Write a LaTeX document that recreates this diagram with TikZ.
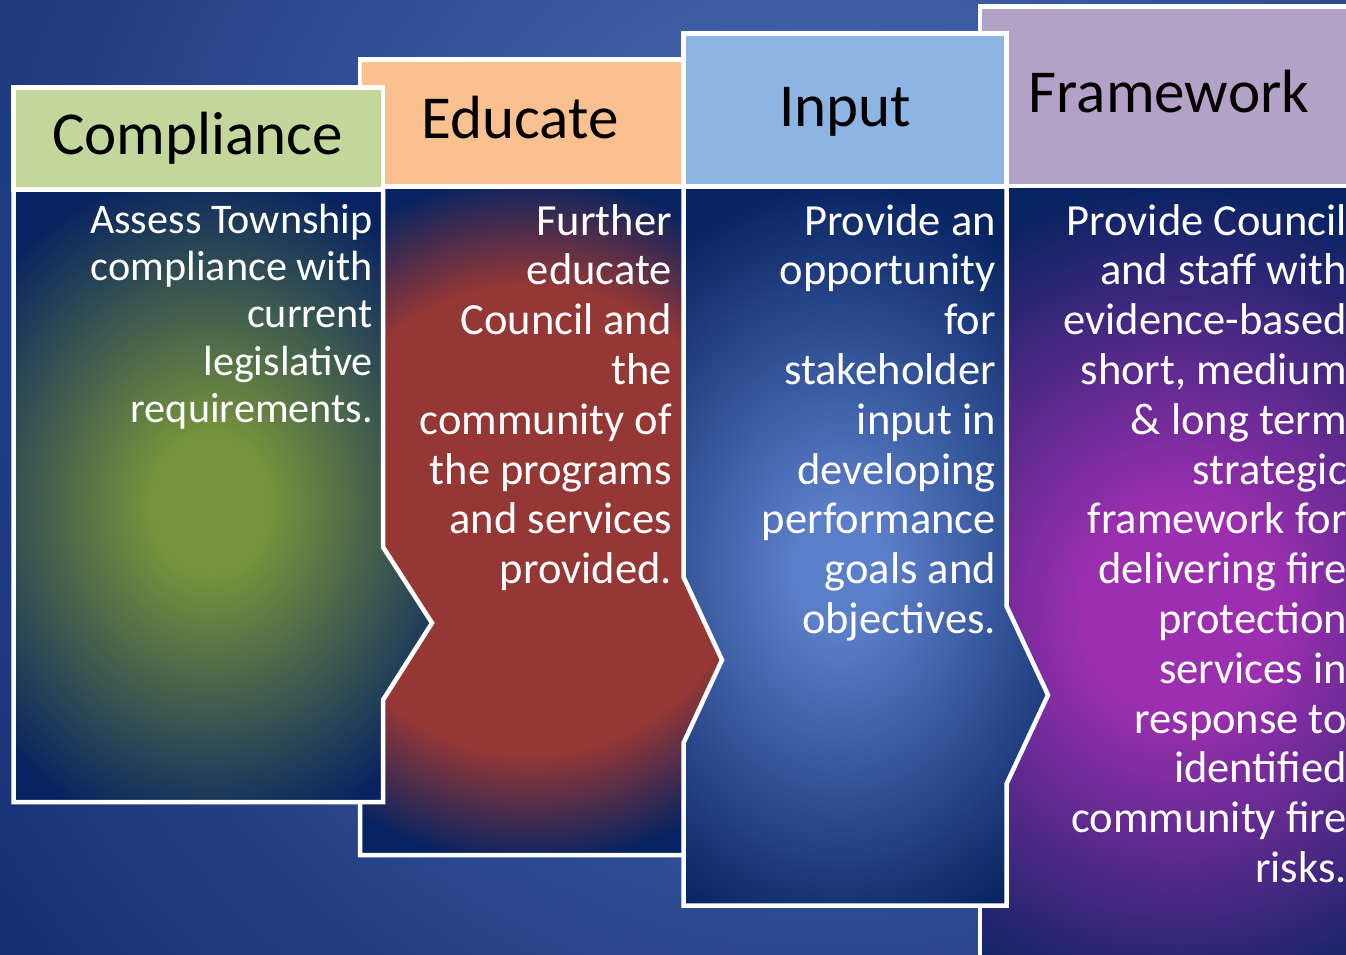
\documentclass[tikz,border=0pt]{standalone}
\usepackage{fontspec}
\setmainfont{Carlito}
\definecolor{bgIn}{HTML}{4F70BA}
\definecolor{bgOut}{HTML}{0E286A}
\definecolor{navyB}{HTML}{072361}
\definecolor{compHd}{HTML}{C3D69B}
\definecolor{eduHd}{HTML}{FAC090}
\definecolor{inHd}{HTML}{8EB4E3}
\definecolor{frHd}{HTML}{B3A2C7}
\definecolor{compIn}{HTML}{77943C}
\definecolor{eduIn}{HTML}{953735}
\definecolor{inIn}{HTML}{5B7EC8}
\definecolor{frIn}{HTML}{9C2FAF}
\pgfdeclareradialshading{compSh}{\pgfpoint{0bp}{0bp}}{color(0bp)=(compIn); color(5bp)=(compIn); color(25bp)=(navyB); color(50bp)=(navyB)}
\pgfdeclareradialshading{eduSh}{\pgfpoint{0bp}{0bp}}{color(0bp)=(eduIn); color(17bp)=(eduIn); color(25bp)=(navyB); color(50bp)=(navyB)}
\pgfdeclareradialshading{inSh}{\pgfpoint{0bp}{0bp}}{color(0bp)=(inIn); color(4bp)=(inIn); color(25bp)=(navyB); color(50bp)=(navyB)}
\pgfdeclareradialshading{frSh}{\pgfpoint{0bp}{0bp}}{color(0bp)=(frIn); color(6bp)=(frIn); color(25bp)=(navyB); color(50bp)=(navyB)}
\def\frbody{(980,186) -- (1360,186) -- (1360,1000) -- (980,1000) -- cycle}
\def\inbody{(683.5,186.5) -- (1006.5,186.5) -- (1006.5,606) -- (1048,695) -- (1006.5,784) -- (1006.5,905.5) -- (683.5,905.5) -- cycle}
\def\edubody{(360,186.5) -- (683.5,186.5) -- (683.5,577) -- (722,660) -- (683.5,743) -- (683.5,855) -- (360,855) -- cycle}
\def\compbody{(13.5,189.5) -- (383,189.5) -- (383,547) -- (432,623) -- (383,700) -- (383,802) -- (13.5,802) -- cycle}
\tikzset{
  wb/.style={draw=white, line width=4.5pt, line join=miter},
  htxt/.style={text=black, inner sep=0pt, font=\fontsize{61}{73}\selectfont, anchor=base},
  btxt/.style={text=white, inner sep=0pt, align=right, anchor=north east, font=\fontsize{44.5}{49.8}\selectfont},
  btxtsmall/.style={btxt, font=\fontsize{42.2}{47.3}\selectfont}
}
\begin{document}
\begin{tikzpicture}[x=1pt,y=-1pt]
\useasboundingbox (0,0) rectangle (1346,955);
\clip (0,0) rectangle (1346,955);
% background
\fill[bgOut] (0,0) rectangle (1346,955);
\shade[inner color=bgIn, outer color=bgOut] (830,320) circle [radius=1150pt];
% Framework
\fill[navyB] \frbody;
\begin{scope}
  \clip \frbody;
  \shade[shading=frSh] (1180,610) ellipse [x radius=400pt, y radius=430pt];
\end{scope}
\draw[wb] \frbody;
\draw[wb, fill=frHd] (980,6.5) rectangle (1360,186);
% Input
\fill[navyB] \inbody;
\begin{scope}
  \clip \inbody;
  \shade[shading=inSh] (840,570) ellipse [x radius=300pt, y radius=390pt];
\end{scope}
\draw[wb] \inbody;
\draw[wb, fill=inHd] (683.5,33.5) rectangle (1006.5,186.5);
% Educate
\fill[navyB] \edubody;
\begin{scope}
  \clip \edubody;
  \shade[shading=eduSh] (530,520) ellipse [x radius=330pt, y radius=345pt];
\end{scope}
\draw[wb] \edubody;
\draw[wb, fill=eduHd] (360,59.5) rectangle (683.5,186.5);
% Compliance
\fill[navyB] \compbody;
\begin{scope}
  \clip \compbody;
  \shade[shading=compSh] (210,505) ellipse [x radius=290pt, y radius=340pt];
\end{scope}
\draw[wb] \compbody;
\draw[wb, fill=compHd] (13.5,87.5) rectangle (383,189.5);
% header texts
\node[htxt] (compT) at (197.5,154) {Compliance};
\node[htxt] (eduT) at (520,139) {Educate};
\node[htxt] (inT) at (845,127) {Input};
\node[htxt] (frT) at (1169,113) {Framework};
% body texts
\node[btxtsmall] (compB) at (373,199.9) {\strut Assess Township\\compliance with\\current\\legislative\\requirements.};
\node[btxt] (eduB) at (672,200.1) {\strut Further\\educate\\Council and\\the\\community of\\the programs\\and services\\provided.};
\node[btxt] (inB) at (996,200.1) {\strut Provide an\\opportunity\\for\\stakeholder\\input in\\developing\\performance\\goals and\\objectives.};
\node[btxt] (frB) at (1347,200.1) {\strut Provide Council\\and staff with\\evidence-based\\short, medium\\\& long term\\strategic\\framework for\\delivering fire\\protection\\services in\\response to\\identified\\community fire\\risks.};
\end{tikzpicture}
\end{document}
